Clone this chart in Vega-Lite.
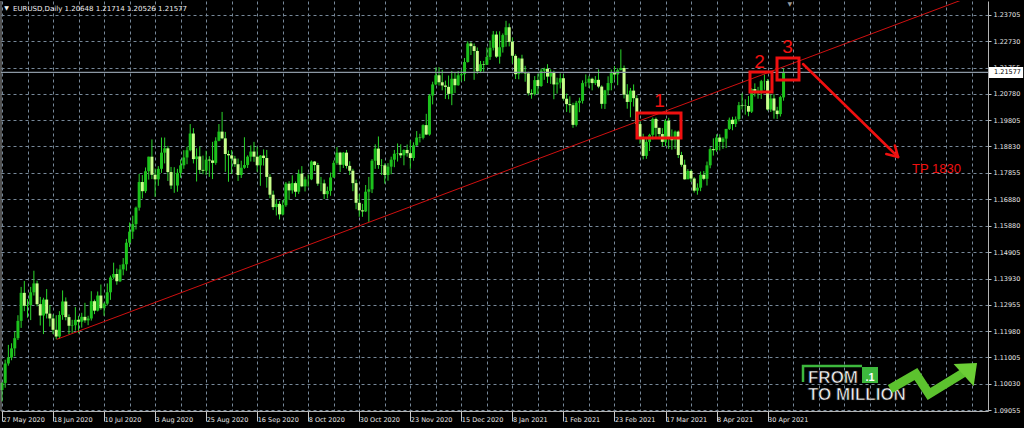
{
"$schema":"https://vega.github.io/schema/vega-lite/v6.json",
"width":987,"height":410,
"autosize":{"type":"none"},
"padding":{"left":1,"top":1,"right":36,"bottom":17},
"background":"#000000",
"config":{"view":{"stroke":null},"font":"DejaVu Sans","axis":{"labelOverlap":false,"labelBound":false,"labelFlush":false}},
"datasets":{
"candles":[
{"i":0,"d":"2020-05-27","o":1.0980,"h":1.1010,"l":1.0937,"c":1.1006},
{"i":1,"d":"2020-05-28","o":1.1006,"h":1.1092,"l":1.0988,"c":1.1078},
{"i":2,"d":"2020-05-29","o":1.1078,"h":1.1147,"l":1.1070,"c":1.1100},
{"i":3,"d":"2020-06-01","o":1.1100,"h":1.1153,"l":1.1090,"c":1.1134},
{"i":4,"d":"2020-06-02","o":1.1134,"h":1.1196,"l":1.1105,"c":1.1172},
{"i":5,"d":"2020-06-03","o":1.1172,"h":1.1257,"l":1.1165,"c":1.1236},
{"i":6,"d":"2020-06-04","o":1.1236,"h":1.1362,"l":1.1210,"c":1.1340},
{"i":7,"d":"2020-06-05","o":1.1340,"h":1.1384,"l":1.1272,"c":1.1292},
{"i":8,"d":"2020-06-08","o":1.1292,"h":1.1317,"l":1.1248,"c":1.1295},
{"i":9,"d":"2020-06-09","o":1.1295,"h":1.1362,"l":1.1239,"c":1.1342},
{"i":10,"d":"2020-06-10","o":1.1342,"h":1.1422,"l":1.1330,"c":1.1375},
{"i":11,"d":"2020-06-11","o":1.1375,"h":1.1385,"l":1.1290,"c":1.1298},
{"i":12,"d":"2020-06-12","o":1.1298,"h":1.1325,"l":1.1219,"c":1.1256},
{"i":13,"d":"2020-06-15","o":1.1256,"h":1.1322,"l":1.1187,"c":1.1315},
{"i":14,"d":"2020-06-16","o":1.1315,"h":1.1354,"l":1.1245,"c":1.1263},
{"i":15,"d":"2020-06-17","o":1.1263,"h":1.1295,"l":1.1215,"c":1.1245},
{"i":16,"d":"2020-06-18","o":1.1245,"h":1.1260,"l":1.1187,"c":1.1203},
{"i":17,"d":"2020-06-19","o":1.1203,"h":1.1257,"l":1.1168,"c":1.1178},
{"i":18,"d":"2020-06-22","o":1.1178,"h":1.1272,"l":1.1170,"c":1.1258},
{"i":19,"d":"2020-06-23","o":1.1258,"h":1.1349,"l":1.1240,"c":1.1308},
{"i":20,"d":"2020-06-24","o":1.1308,"h":1.1323,"l":1.1238,"c":1.1250},
{"i":21,"d":"2020-06-25","o":1.1250,"h":1.1260,"l":1.1186,"c":1.1218},
{"i":22,"d":"2020-06-26","o":1.1218,"h":1.1240,"l":1.1190,"c":1.1220},
{"i":23,"d":"2020-06-29","o":1.1220,"h":1.1287,"l":1.1200,"c":1.1240},
{"i":24,"d":"2020-06-30","o":1.1240,"h":1.1255,"l":1.1190,"c":1.1233},
{"i":25,"d":"2020-07-01","o":1.1233,"h":1.1266,"l":1.1211,"c":1.1251},
{"i":26,"d":"2020-07-02","o":1.1251,"h":1.1303,"l":1.1229,"c":1.1238},
{"i":27,"d":"2020-07-03","o":1.1238,"h":1.1255,"l":1.1220,"c":1.1245},
{"i":28,"d":"2020-07-06","o":1.1245,"h":1.1346,"l":1.1237,"c":1.1309},
{"i":29,"d":"2020-07-07","o":1.1309,"h":1.1315,"l":1.1261,"c":1.1274},
{"i":30,"d":"2020-07-08","o":1.1274,"h":1.1345,"l":1.1271,"c":1.1330},
{"i":31,"d":"2020-07-09","o":1.1330,"h":1.1371,"l":1.1277,"c":1.1283},
{"i":32,"d":"2020-07-10","o":1.1283,"h":1.1304,"l":1.1255,"c":1.1300},
{"i":33,"d":"2020-07-13","o":1.1300,"h":1.1375,"l":1.1293,"c":1.1342},
{"i":34,"d":"2020-07-14","o":1.1342,"h":1.1404,"l":1.1314,"c":1.1397},
{"i":35,"d":"2020-07-15","o":1.1397,"h":1.1452,"l":1.1390,"c":1.1410},
{"i":36,"d":"2020-07-16","o":1.1410,"h":1.1430,"l":1.1370,"c":1.1383},
{"i":37,"d":"2020-07-17","o":1.1383,"h":1.1444,"l":1.1380,"c":1.1427},
{"i":38,"d":"2020-07-20","o":1.1427,"h":1.1469,"l":1.1405,"c":1.1446},
{"i":39,"d":"2020-07-21","o":1.1446,"h":1.1540,"l":1.1422,"c":1.1526},
{"i":40,"d":"2020-07-22","o":1.1526,"h":1.1601,"l":1.1510,"c":1.1567},
{"i":41,"d":"2020-07-23","o":1.1567,"h":1.1626,"l":1.1540,"c":1.1595},
{"i":42,"d":"2020-07-24","o":1.1595,"h":1.1660,"l":1.1575,"c":1.1656},
{"i":43,"d":"2020-07-27","o":1.1656,"h":1.1781,"l":1.1645,"c":1.1751},
{"i":44,"d":"2020-07-28","o":1.1751,"h":1.1777,"l":1.1690,"c":1.1717},
{"i":45,"d":"2020-07-29","o":1.1717,"h":1.1805,"l":1.1710,"c":1.1791},
{"i":46,"d":"2020-07-30","o":1.1791,"h":1.1845,"l":1.1760,"c":1.1845},
{"i":47,"d":"2020-07-31","o":1.1845,"h":1.1909,"l":1.1762,"c":1.1778},
{"i":48,"d":"2020-08-03","o":1.1778,"h":1.1801,"l":1.1696,"c":1.1761},
{"i":49,"d":"2020-08-04","o":1.1761,"h":1.1810,"l":1.1737,"c":1.1800},
{"i":50,"d":"2020-08-05","o":1.1800,"h":1.1916,"l":1.1785,"c":1.1860},
{"i":51,"d":"2020-08-06","o":1.1860,"h":1.1916,"l":1.1820,"c":1.1876},
{"i":52,"d":"2020-08-07","o":1.1876,"h":1.1885,"l":1.1755,"c":1.1788},
{"i":53,"d":"2020-08-10","o":1.1788,"h":1.1807,"l":1.1725,"c":1.1738},
{"i":54,"d":"2020-08-11","o":1.1738,"h":1.1806,"l":1.1711,"c":1.1738},
{"i":55,"d":"2020-08-12","o":1.1738,"h":1.1800,"l":1.1715,"c":1.1785},
{"i":56,"d":"2020-08-13","o":1.1785,"h":1.1835,"l":1.1767,"c":1.1813},
{"i":57,"d":"2020-08-14","o":1.1813,"h":1.1869,"l":1.1800,"c":1.1842},
{"i":58,"d":"2020-08-17","o":1.1842,"h":1.1882,"l":1.1817,"c":1.1869},
{"i":59,"d":"2020-08-18","o":1.1869,"h":1.1966,"l":1.1865,"c":1.1931},
{"i":60,"d":"2020-08-19","o":1.1931,"h":1.1951,"l":1.1820,"c":1.1836},
{"i":61,"d":"2020-08-20","o":1.1836,"h":1.1876,"l":1.1753,"c":1.1846},
{"i":62,"d":"2020-08-21","o":1.1846,"h":1.1883,"l":1.1781,"c":1.1796},
{"i":63,"d":"2020-08-24","o":1.1796,"h":1.1849,"l":1.1780,"c":1.1793},
{"i":64,"d":"2020-08-25","o":1.1793,"h":1.1867,"l":1.1777,"c":1.1834},
{"i":65,"d":"2020-08-26","o":1.1834,"h":1.1847,"l":1.1770,"c":1.1831},
{"i":66,"d":"2020-08-27","o":1.1831,"h":1.1900,"l":1.1762,"c":1.1822},
{"i":67,"d":"2020-08-28","o":1.1822,"h":1.1917,"l":1.1815,"c":1.1904},
{"i":68,"d":"2020-08-31","o":1.1904,"h":1.1966,"l":1.1902,"c":1.1938},
{"i":69,"d":"2020-09-01","o":1.1938,"h":1.2011,"l":1.1910,"c":1.1913},
{"i":70,"d":"2020-09-02","o":1.1913,"h":1.1937,"l":1.1789,"c":1.1855},
{"i":71,"d":"2020-09-03","o":1.1855,"h":1.1868,"l":1.1752,"c":1.1850},
{"i":72,"d":"2020-09-04","o":1.1850,"h":1.1870,"l":1.1781,"c":1.1838},
{"i":73,"d":"2020-09-07","o":1.1838,"h":1.1848,"l":1.1807,"c":1.1817},
{"i":74,"d":"2020-09-08","o":1.1817,"h":1.1838,"l":1.1755,"c":1.1777},
{"i":75,"d":"2020-09-09","o":1.1777,"h":1.1830,"l":1.1766,"c":1.1804},
{"i":76,"d":"2020-09-10","o":1.1804,"h":1.1917,"l":1.1800,"c":1.1814},
{"i":77,"d":"2020-09-11","o":1.1814,"h":1.1850,"l":1.1803,"c":1.1845},
{"i":78,"d":"2020-09-14","o":1.1845,"h":1.1887,"l":1.1827,"c":1.1864},
{"i":79,"d":"2020-09-15","o":1.1864,"h":1.1900,"l":1.1826,"c":1.1845},
{"i":80,"d":"2020-09-16","o":1.1845,"h":1.1882,"l":1.1789,"c":1.1813},
{"i":81,"d":"2020-09-17","o":1.1813,"h":1.1851,"l":1.1737,"c":1.1849},
{"i":82,"d":"2020-09-18","o":1.1849,"h":1.1872,"l":1.1812,"c":1.1840},
{"i":83,"d":"2020-09-21","o":1.1840,"h":1.1870,"l":1.1730,"c":1.1770},
{"i":84,"d":"2020-09-22","o":1.1770,"h":1.1780,"l":1.1691,"c":1.1704},
{"i":85,"d":"2020-09-23","o":1.1704,"h":1.1719,"l":1.1647,"c":1.1658},
{"i":86,"d":"2020-09-24","o":1.1658,"h":1.1688,"l":1.1627,"c":1.1670},
{"i":87,"d":"2020-09-25","o":1.1670,"h":1.1680,"l":1.1612,"c":1.1631},
{"i":88,"d":"2020-09-28","o":1.1631,"h":1.1684,"l":1.1627,"c":1.1665},
{"i":89,"d":"2020-09-29","o":1.1665,"h":1.1751,"l":1.1659,"c":1.1745},
{"i":90,"d":"2020-09-30","o":1.1745,"h":1.1754,"l":1.1685,"c":1.1720},
{"i":91,"d":"2020-10-01","o":1.1720,"h":1.1776,"l":1.1708,"c":1.1747},
{"i":92,"d":"2020-10-02","o":1.1747,"h":1.1753,"l":1.1696,"c":1.1715},
{"i":93,"d":"2020-10-05","o":1.1715,"h":1.1797,"l":1.1707,"c":1.1782},
{"i":94,"d":"2020-10-06","o":1.1782,"h":1.1810,"l":1.1732,"c":1.1735},
{"i":95,"d":"2020-10-07","o":1.1735,"h":1.1771,"l":1.1716,"c":1.1761},
{"i":96,"d":"2020-10-08","o":1.1761,"h":1.1779,"l":1.1734,"c":1.1761},
{"i":97,"d":"2020-10-09","o":1.1761,"h":1.1831,"l":1.1758,"c":1.1827},
{"i":98,"d":"2020-10-12","o":1.1827,"h":1.1829,"l":1.1792,"c":1.1814},
{"i":99,"d":"2020-10-13","o":1.1814,"h":1.1822,"l":1.1737,"c":1.1745},
{"i":100,"d":"2020-10-14","o":1.1745,"h":1.1770,"l":1.1717,"c":1.1746},
{"i":101,"d":"2020-10-15","o":1.1746,"h":1.1760,"l":1.1688,"c":1.1706},
{"i":102,"d":"2020-10-16","o":1.1706,"h":1.1734,"l":1.1690,"c":1.1718},
{"i":103,"d":"2020-10-19","o":1.1718,"h":1.1786,"l":1.1700,"c":1.1768},
{"i":104,"d":"2020-10-20","o":1.1768,"h":1.1831,"l":1.1767,"c":1.1822},
{"i":105,"d":"2020-10-21","o":1.1822,"h":1.1881,"l":1.1815,"c":1.1860},
{"i":106,"d":"2020-10-22","o":1.1860,"h":1.1863,"l":1.1788,"c":1.1815},
{"i":107,"d":"2020-10-23","o":1.1815,"h":1.1862,"l":1.1803,"c":1.1860},
{"i":108,"d":"2020-10-26","o":1.1860,"h":1.1870,"l":1.1801,"c":1.1811},
{"i":109,"d":"2020-10-27","o":1.1811,"h":1.1828,"l":1.1777,"c":1.1793},
{"i":110,"d":"2020-10-28","o":1.1793,"h":1.1800,"l":1.1717,"c":1.1747},
{"i":111,"d":"2020-10-29","o":1.1747,"h":1.1760,"l":1.1650,"c":1.1674},
{"i":112,"d":"2020-10-30","o":1.1674,"h":1.1707,"l":1.1622,"c":1.1646},
{"i":113,"d":"2020-11-02","o":1.1646,"h":1.1670,"l":1.1622,"c":1.1642},
{"i":114,"d":"2020-11-03","o":1.1642,"h":1.1740,"l":1.1640,"c":1.1715},
{"i":115,"d":"2020-11-04","o":1.1715,"h":1.1770,"l":1.1603,"c":1.1724},
{"i":116,"d":"2020-11-05","o":1.1724,"h":1.1836,"l":1.1710,"c":1.1830},
{"i":117,"d":"2020-11-06","o":1.1830,"h":1.1891,"l":1.1800,"c":1.1875},
{"i":118,"d":"2020-11-09","o":1.1875,"h":1.1920,"l":1.1800,"c":1.1814},
{"i":119,"d":"2020-11-10","o":1.1814,"h":1.1836,"l":1.1777,"c":1.1813},
{"i":120,"d":"2020-11-11","o":1.1813,"h":1.1820,"l":1.1745,"c":1.1777},
{"i":121,"d":"2020-11-12","o":1.1777,"h":1.1821,"l":1.1756,"c":1.1808},
{"i":122,"d":"2020-11-13","o":1.1808,"h":1.1845,"l":1.1780,"c":1.1834},
{"i":123,"d":"2020-11-16","o":1.1834,"h":1.1870,"l":1.1806,"c":1.1856},
{"i":124,"d":"2020-11-17","o":1.1856,"h":1.1894,"l":1.1827,"c":1.1858},
{"i":125,"d":"2020-11-18","o":1.1858,"h":1.1891,"l":1.1840,"c":1.1850},
{"i":126,"d":"2020-11-19","o":1.1850,"h":1.1872,"l":1.1813,"c":1.1870},
{"i":127,"d":"2020-11-20","o":1.1870,"h":1.1890,"l":1.1845,"c":1.1858},
{"i":128,"d":"2020-11-23","o":1.1858,"h":1.1905,"l":1.1800,"c":1.1840},
{"i":129,"d":"2020-11-24","o":1.1840,"h":1.1898,"l":1.1830,"c":1.1887},
{"i":130,"d":"2020-11-25","o":1.1887,"h":1.1940,"l":1.1885,"c":1.1916},
{"i":131,"d":"2020-11-26","o":1.1916,"h":1.1930,"l":1.1898,"c":1.1915},
{"i":132,"d":"2020-11-27","o":1.1915,"h":1.1965,"l":1.1909,"c":1.1962},
{"i":133,"d":"2020-11-30","o":1.1962,"h":1.2004,"l":1.1925,"c":1.1927},
{"i":134,"d":"2020-12-01","o":1.1927,"h":1.2077,"l":1.1923,"c":1.2072},
{"i":135,"d":"2020-12-02","o":1.2072,"h":1.2123,"l":1.2039,"c":1.2113},
{"i":136,"d":"2020-12-03","o":1.2113,"h":1.2176,"l":1.2110,"c":1.2147},
{"i":137,"d":"2020-12-04","o":1.2147,"h":1.2177,"l":1.2109,"c":1.2121},
{"i":138,"d":"2020-12-07","o":1.2121,"h":1.2167,"l":1.2091,"c":1.2109},
{"i":139,"d":"2020-12-08","o":1.2109,"h":1.2127,"l":1.2059,"c":1.2104},
{"i":140,"d":"2020-12-09","o":1.2104,"h":1.2146,"l":1.2058,"c":1.2078},
{"i":141,"d":"2020-12-10","o":1.2078,"h":1.2163,"l":1.2036,"c":1.2134},
{"i":142,"d":"2020-12-11","o":1.2134,"h":1.2157,"l":1.2081,"c":1.2110},
{"i":143,"d":"2020-12-14","o":1.2110,"h":1.2163,"l":1.2108,"c":1.2147},
{"i":144,"d":"2020-12-15","o":1.2147,"h":1.2165,"l":1.2124,"c":1.2151},
{"i":145,"d":"2020-12-16","o":1.2151,"h":1.2211,"l":1.2125,"c":1.2196},
{"i":146,"d":"2020-12-17","o":1.2196,"h":1.2273,"l":1.2194,"c":1.2265},
{"i":147,"d":"2020-12-18","o":1.2265,"h":1.2270,"l":1.2222,"c":1.2255},
{"i":148,"d":"2020-12-21","o":1.2255,"h":1.2265,"l":1.2130,"c":1.2237},
{"i":149,"d":"2020-12-22","o":1.2237,"h":1.2250,"l":1.2152,"c":1.2162},
{"i":150,"d":"2020-12-23","o":1.2162,"h":1.2200,"l":1.2155,"c":1.2188},
{"i":151,"d":"2020-12-24","o":1.2188,"h":1.2200,"l":1.2160,"c":1.2186},
{"i":152,"d":"2020-12-28","o":1.2186,"h":1.2250,"l":1.2185,"c":1.2215},
{"i":153,"d":"2020-12-29","o":1.2215,"h":1.2276,"l":1.2204,"c":1.2249},
{"i":154,"d":"2020-12-30","o":1.2249,"h":1.2311,"l":1.2239,"c":1.2298},
{"i":155,"d":"2020-12-31","o":1.2298,"h":1.2310,"l":1.2211,"c":1.2216},
{"i":156,"d":"2021-01-04","o":1.2216,"h":1.2310,"l":1.2190,"c":1.2251},
{"i":157,"d":"2021-01-05","o":1.2251,"h":1.2302,"l":1.2231,"c":1.2296},
{"i":158,"d":"2021-01-06","o":1.2296,"h":1.2349,"l":1.2253,"c":1.2325},
{"i":159,"d":"2021-01-07","o":1.2325,"h":1.2339,"l":1.2254,"c":1.2271},
{"i":160,"d":"2021-01-08","o":1.2271,"h":1.2287,"l":1.2191,"c":1.2219},
{"i":161,"d":"2021-01-11","o":1.2219,"h":1.2225,"l":1.2133,"c":1.2151},
{"i":162,"d":"2021-01-12","o":1.2151,"h":1.2212,"l":1.2132,"c":1.2209},
{"i":163,"d":"2021-01-13","o":1.2209,"h":1.2223,"l":1.2153,"c":1.2156},
{"i":164,"d":"2021-01-14","o":1.2156,"h":1.2182,"l":1.2123,"c":1.2154},
{"i":165,"d":"2021-01-15","o":1.2154,"h":1.2160,"l":1.2072,"c":1.2080},
{"i":166,"d":"2021-01-18","o":1.2080,"h":1.2095,"l":1.2060,"c":1.2077},
{"i":167,"d":"2021-01-19","o":1.2077,"h":1.2144,"l":1.2072,"c":1.2129},
{"i":168,"d":"2021-01-20","o":1.2129,"h":1.2153,"l":1.2077,"c":1.2107},
{"i":169,"d":"2021-01-21","o":1.2107,"h":1.2172,"l":1.2104,"c":1.2164},
{"i":170,"d":"2021-01-22","o":1.2164,"h":1.2175,"l":1.2130,"c":1.2171},
{"i":171,"d":"2021-01-25","o":1.2171,"h":1.2188,"l":1.2118,"c":1.2142},
{"i":172,"d":"2021-01-26","o":1.2142,"h":1.2169,"l":1.2115,"c":1.2159},
{"i":173,"d":"2021-01-27","o":1.2159,"h":1.2164,"l":1.2058,"c":1.2113},
{"i":174,"d":"2021-01-28","o":1.2113,"h":1.2138,"l":1.2079,"c":1.2120},
{"i":175,"d":"2021-01-29","o":1.2120,"h":1.2154,"l":1.2098,"c":1.2136},
{"i":176,"d":"2021-02-01","o":1.2136,"h":1.2150,"l":1.2054,"c":1.2060},
{"i":177,"d":"2021-02-02","o":1.2060,"h":1.2079,"l":1.2011,"c":1.2040},
{"i":178,"d":"2021-02-03","o":1.2040,"h":1.2069,"l":1.2008,"c":1.2036},
{"i":179,"d":"2021-02-04","o":1.2036,"h":1.2045,"l":1.1952,"c":1.1963},
{"i":180,"d":"2021-02-05","o":1.1963,"h":1.2052,"l":1.1957,"c":1.2045},
{"i":181,"d":"2021-02-08","o":1.2045,"h":1.2064,"l":1.2010,"c":1.2052},
{"i":182,"d":"2021-02-09","o":1.2052,"h":1.2128,"l":1.2042,"c":1.2118},
{"i":183,"d":"2021-02-10","o":1.2118,"h":1.2150,"l":1.2105,"c":1.2120},
{"i":184,"d":"2021-02-11","o":1.2120,"h":1.2145,"l":1.2100,"c":1.2134},
{"i":185,"d":"2021-02-12","o":1.2134,"h":1.2138,"l":1.2091,"c":1.2118},
{"i":186,"d":"2021-02-15","o":1.2118,"h":1.2144,"l":1.2111,"c":1.2130},
{"i":187,"d":"2021-02-16","o":1.2130,"h":1.2169,"l":1.2099,"c":1.2105},
{"i":188,"d":"2021-02-17","o":1.2105,"h":1.2110,"l":1.2023,"c":1.2041},
{"i":189,"d":"2021-02-18","o":1.2041,"h":1.2093,"l":1.2022,"c":1.2091},
{"i":190,"d":"2021-02-19","o":1.2091,"h":1.2143,"l":1.2073,"c":1.2118},
{"i":191,"d":"2021-02-22","o":1.2118,"h":1.2168,"l":1.2091,"c":1.2155},
{"i":192,"d":"2021-02-23","o":1.2155,"h":1.2181,"l":1.2130,"c":1.2150},
{"i":193,"d":"2021-02-24","o":1.2150,"h":1.2173,"l":1.2110,"c":1.2166},
{"i":194,"d":"2021-02-25","o":1.2166,"h":1.2243,"l":1.2165,"c":1.2174},
{"i":195,"d":"2021-02-26","o":1.2174,"h":1.2183,"l":1.2061,"c":1.2075},
{"i":196,"d":"2021-03-01","o":1.2075,"h":1.2114,"l":1.2023,"c":1.2048},
{"i":197,"d":"2021-03-02","o":1.2048,"h":1.2100,"l":1.1991,"c":1.2090},
{"i":198,"d":"2021-03-03","o":1.2090,"h":1.2113,"l":1.2031,"c":1.2062},
{"i":199,"d":"2021-03-04","o":1.2062,"h":1.2073,"l":1.1955,"c":1.1966},
{"i":200,"d":"2021-03-05","o":1.1966,"h":1.1976,"l":1.1893,"c":1.1915},
{"i":201,"d":"2021-03-08","o":1.1915,"h":1.1930,"l":1.1835,"c":1.1848},
{"i":202,"d":"2021-03-09","o":1.1848,"h":1.1910,"l":1.1837,"c":1.1900},
{"i":203,"d":"2021-03-10","o":1.1900,"h":1.1930,"l":1.1866,"c":1.1926},
{"i":204,"d":"2021-03-11","o":1.1926,"h":1.1990,"l":1.1909,"c":1.1985},
{"i":205,"d":"2021-03-12","o":1.1985,"h":1.1990,"l":1.1913,"c":1.1952},
{"i":206,"d":"2021-03-15","o":1.1952,"h":1.1952,"l":1.1910,"c":1.1929},
{"i":207,"d":"2021-03-16","o":1.1929,"h":1.1951,"l":1.1883,"c":1.1900},
{"i":208,"d":"2021-03-17","o":1.1900,"h":1.1985,"l":1.1884,"c":1.1978},
{"i":209,"d":"2021-03-18","o":1.1978,"h":1.1989,"l":1.1874,"c":1.1916},
{"i":210,"d":"2021-03-19","o":1.1916,"h":1.1946,"l":1.1871,"c":1.1906},
{"i":211,"d":"2021-03-22","o":1.1906,"h":1.1942,"l":1.1873,"c":1.1938},
{"i":212,"d":"2021-03-23","o":1.1938,"h":1.1942,"l":1.1840,"c":1.1851},
{"i":213,"d":"2021-03-24","o":1.1851,"h":1.1863,"l":1.1808,"c":1.1815},
{"i":214,"d":"2021-03-25","o":1.1815,"h":1.1834,"l":1.1760,"c":1.1761},
{"i":215,"d":"2021-03-26","o":1.1761,"h":1.1799,"l":1.1763,"c":1.1792},
{"i":216,"d":"2021-03-29","o":1.1792,"h":1.1797,"l":1.1751,"c":1.1764},
{"i":217,"d":"2021-03-30","o":1.1764,"h":1.1769,"l":1.1712,"c":1.1719},
{"i":218,"d":"2021-03-31","o":1.1719,"h":1.1746,"l":1.1704,"c":1.1730},
{"i":219,"d":"2021-04-01","o":1.1730,"h":1.1790,"l":1.1717,"c":1.1778},
{"i":220,"d":"2021-04-02","o":1.1778,"h":1.1792,"l":1.1758,"c":1.1763},
{"i":221,"d":"2021-04-05","o":1.1763,"h":1.1827,"l":1.1738,"c":1.1813},
{"i":222,"d":"2021-04-06","o":1.1813,"h":1.1880,"l":1.1802,"c":1.1873},
{"i":223,"d":"2021-04-07","o":1.1873,"h":1.1913,"l":1.1849,"c":1.1869},
{"i":224,"d":"2021-04-08","o":1.1869,"h":1.1928,"l":1.1863,"c":1.1916},
{"i":225,"d":"2021-04-09","o":1.1916,"h":1.1928,"l":1.1868,"c":1.1900},
{"i":226,"d":"2021-04-12","o":1.1900,"h":1.1917,"l":1.1874,"c":1.1912},
{"i":227,"d":"2021-04-13","o":1.1912,"h":1.1948,"l":1.1877,"c":1.1948},
{"i":228,"d":"2021-04-14","o":1.1948,"h":1.1990,"l":1.1944,"c":1.1982},
{"i":229,"d":"2021-04-15","o":1.1982,"h":1.1993,"l":1.1943,"c":1.1966},
{"i":230,"d":"2021-04-16","o":1.1966,"h":1.1994,"l":1.1955,"c":1.1984},
{"i":231,"d":"2021-04-19","o":1.1984,"h":1.2048,"l":1.1976,"c":1.2036},
{"i":232,"d":"2021-04-20","o":1.2036,"h":1.2080,"l":1.2020,"c":1.2034},
{"i":233,"d":"2021-04-21","o":1.2034,"h":1.2058,"l":1.2001,"c":1.2033},
{"i":234,"d":"2021-04-22","o":1.2033,"h":1.2070,"l":1.1995,"c":1.2012},
{"i":235,"d":"2021-04-23","o":1.2012,"h":1.2099,"l":1.2007,"c":1.2096},
{"i":236,"d":"2021-04-26","o":1.2096,"h":1.2117,"l":1.2068,"c":1.2083},
{"i":237,"d":"2021-04-27","o":1.2083,"h":1.2104,"l":1.2060,"c":1.2089},
{"i":238,"d":"2021-04-28","o":1.2089,"h":1.2130,"l":1.2059,"c":1.2125},
{"i":239,"d":"2021-04-29","o":1.2125,"h":1.2150,"l":1.2093,"c":1.2126},
{"i":240,"d":"2021-04-30","o":1.2126,"h":1.2133,"l":1.2016,"c":1.2020},
{"i":241,"d":"2021-05-03","o":1.2020,"h":1.2076,"l":1.2011,"c":1.2061},
{"i":242,"d":"2021-05-04","o":1.2061,"h":1.2077,"l":1.1986,"c":1.2016},
{"i":243,"d":"2021-05-05","o":1.2016,"h":1.2030,"l":1.1985,"c":1.2003},
{"i":244,"d":"2021-05-06","o":1.2003,"h":1.2071,"l":1.1994,"c":1.2066},
{"i":245,"d":"2021-05-07","o":1.20648,"h":1.21714,"l":1.20526,"c":1.21577}
]
},
"layer":[
{
"data":{"name":"candles"},
"mark":{"type":"rule","strokeWidth":1,"color":"#2ad62a"},
"encoding":{
"x":{"field":"i","type":"quantitative","scale":{"domain":[-0.31,309.09],"nice":false,"zero":false,"padding":0},
"axis":{"orient":"bottom","title":null,"tickCount":200,
"values":[0,8,16,24,32,40,48,56,64,72,80,88,96,104,112,120,128,136,144,152,160,168,176,184,192,200,208,216,224,232,240,248,256,264,272,280,288,296,304],
"labelExpr":"(datum.value % 16 == 0 && datum.value <= 240) ? ['27 May 2020','18 Jun 2020','10 Jul 2020','3 Aug 2020','25 Aug 2020','16 Sep 2020','8 Oct 2020','30 Oct 2020','23 Nov 2020','15 Dec 2020','8 Jan 2021','1 Feb 2021','23 Feb 2021','17 Mar 2021','8 Apr 2021','30 Apr 2021'][datum.value / 16] : ''",
"labelAlign":"left","labelBaseline":"top","labelPadding":-5,"labelDx":1,
"labelColor":"#e6e6e6","labelFont":"DejaVu Sans","labelFontSize":6.5,
"labelOverlap":false,"labelFlush":false,"labelBound":false,
"tickSize":10,"tickColor":"#c8c8c8",
"tickOpacity":{"condition":{"test":"datum.value % 16 == 0 && datum.value <= 240","value":1},"value":0},
"domain":true,"domainColor":"#b4b4b4",
"grid":true,"gridColor":"#778899","gridDash":[3,3],"gridOpacity":1}},
"y":{"field":"l","type":"quantitative","scale":{"domain":[1.09018,1.24224],"nice":false,"zero":false,"padding":0},
"axis":{"orient":"right","title":null,"tickCount":200,
"values":[1.09055,1.10030,1.11005,1.11980,1.12955,1.13930,1.14905,1.15880,1.16880,1.17855,1.18830,1.19805,1.20780,1.21755,1.22730,1.23705],
"format":".5f","labelColor":"#e6e6e6","labelFont":"DejaVu Sans","labelFontSize":6.5,"labelPadding":2,
"labelOverlap":false,"labelFlush":false,"labelBound":false,
"tickSize":3,"tickColor":"#c8c8c8","domain":true,"domainColor":"#b4b4b4",
"grid":true,"gridColor":"#778899","gridDash":[3,3],"gridOpacity":1}},
"y2":{"field":"h"}
}
},
{
"data":{"name":"candles"},
"mark":{"type":"bar","size":3},
"encoding":{
"x":{"field":"i","type":"quantitative","scale":{"domain":[-0.31,309.09],"nice":false,"zero":false,"padding":0}},
"y":{"field":"o","type":"quantitative","scale":{"domain":[1.09018,1.24224],"nice":false,"zero":false,"padding":0}},
"y2":{"field":"c"},
"color":{"condition":{"test":"datum.c >= datum.o","value":"#1cc21c"},"value":"#c8ff8c"}
}
},
{
"data":{"values":[{"x":-0.31}]},
"mark":{"type":"rule","color":"#a0a0a0","strokeWidth":1},
"encoding":{"x":{"field":"x","type":"quantitative","scale":{"domain":[-0.31,309.09],"nice":false,"zero":false,"padding":0}}}
},
{
"data":{"values":[{"p":1.21577}]},
"mark":{"type":"rule","color":"#8c98a4","strokeWidth":1.2},
"encoding":{"y":{"field":"p","type":"quantitative","scale":{"domain":[1.09018,1.24224],"nice":false,"zero":false,"padding":0}}}
},
{
"data":{"values":[{"i":17.15,"p":1.11675},{"i":309.09,"p":1.24628}]},
"mark":{"type":"line","color":"#d01010","strokeWidth":1,"clip":true},
"encoding":{
"x":{"field":"i","type":"quantitative","scale":{"domain":[-0.31,309.09],"nice":false,"zero":false,"padding":0}},
"y":{"field":"p","type":"quantitative","scale":{"domain":[1.09018,1.24224],"nice":false,"zero":false,"padding":0}}
}
},
{
"data":{"values":[
{"x1":199.06,"x2":212.85,"y1":1.20070,"y2":1.19143},
{"x1":234.48,"x2":241.38,"y1":1.21591,"y2":1.20849},
{"x1":242.95,"x2":249.84,"y1":1.22110,"y2":1.21294}
]},
"mark":{"type":"rect","fillOpacity":0,"stroke":"#f01010","strokeWidth":3},
"encoding":{
"x":{"field":"x1","type":"quantitative","scale":{"domain":[-0.31,309.09],"nice":false,"zero":false,"padding":0}},
"x2":{"field":"x2"},
"y":{"field":"y1","type":"quantitative","scale":{"domain":[1.09018,1.24224],"nice":false,"zero":false,"padding":0}},
"y2":{"field":"y2"}
}
},
{
"data":{"values":[
{"x1":251.1,"y1":1.21887,"x2":280.9,"y2":1.18438},
{"x1":280.9,"y1":1.18438,"x2":277.2,"y2":1.18549},
{"x1":280.9,"y1":1.18438,"x2":279.9,"y2":1.18868}
]},
"mark":{"type":"rule","color":"#f01010","strokeWidth":2.5,"strokeCap":"round"},
"encoding":{
"x":{"field":"x1","type":"quantitative","scale":{"domain":[-0.31,309.09],"nice":false,"zero":false,"padding":0}},
"x2":{"field":"x2"},
"y":{"field":"y1","type":"quantitative","scale":{"domain":[1.09018,1.24224],"nice":false,"zero":false,"padding":0}},
"y2":{"field":"y2"}
}
},
{
"data":{"values":[
{"x":206.1,"y":1.20281,"t":"1"},
{"x":237.46,"y":1.21728,"t":"2"},
{"x":246.24,"y":1.22307,"t":"3"}
]},
"mark":{"type":"text","color":"#f01010","font":"Liberation Sans","fontSize":19,"align":"center","baseline":"alphabetic"},
"encoding":{
"x":{"field":"x","type":"quantitative","scale":{"domain":[-0.31,309.09],"nice":false,"zero":false,"padding":0}},
"y":{"field":"y","type":"quantitative","scale":{"domain":[1.09018,1.24224],"nice":false,"zero":false,"padding":0}},
"text":{"field":"t"}
}
},
{
"data":{"values":[{"x":285.3,"y":1.17845,"t":"TP 1830"}]},
"mark":{"type":"text","color":"#f01010","font":"Liberation Sans","fontSize":13,"align":"left","baseline":"alphabetic"},
"encoding":{
"x":{"field":"x","type":"quantitative","scale":{"domain":[-0.31,309.09],"nice":false,"zero":false,"padding":0}},
"y":{"field":"y","type":"quantitative","scale":{"domain":[1.09018,1.24224],"nice":false,"zero":false,"padding":0}},
"text":{"field":"t"}
}
},
{
"data":{"values":[{"x1":309.4,"x2":320.1,"y1":1.21776,"y2":1.21368}]},
"mark":{"type":"rect","color":"#ffffff"},
"encoding":{
"x":{"field":"x1","type":"quantitative","scale":{"domain":[-0.31,309.09],"nice":false,"zero":false,"padding":0}},
"x2":{"field":"x2"},
"y":{"field":"y1","type":"quantitative","scale":{"domain":[1.09018,1.24224],"nice":false,"zero":false,"padding":0}},
"y2":{"field":"y2"}
}
},
{
"data":{"values":[{"x":311.0,"y":1.21577,"t":"1.21577"}]},
"mark":{"type":"text","color":"#000000","font":"DejaVu Sans","fontSize":6.5,"align":"left","baseline":"middle"},
"encoding":{
"x":{"field":"x","type":"quantitative","scale":{"domain":[-0.31,309.09],"nice":false,"zero":false,"padding":0}},
"y":{"field":"y","type":"quantitative","scale":{"domain":[1.09018,1.24224],"nice":false,"zero":false,"padding":0}},
"text":{"field":"t"}
}
},
{
"data":{"values":[{"x":3.45,"y":1.23853,"t":"EURUSD,Daily  1.20648 1.21714 1.20526 1.21577"}]},
"mark":{"type":"text","color":"#f0f0f0","font":"DejaVu Sans","fontSize":7,"align":"left","baseline":"alphabetic"},
"encoding":{
"x":{"field":"x","type":"quantitative","scale":{"domain":[-0.31,309.09],"nice":false,"zero":false,"padding":0}},
"y":{"field":"y","type":"quantitative","scale":{"domain":[1.09018,1.24224],"nice":false,"zero":false,"padding":0}},
"text":{"field":"t"}
}
},
{
"data":{"values":[{"x":1.41,"y":1.23964,"t":"▼","c":"#f0f0f0"},{"x":247.0,"y":1.24113,"t":"▼","c":"#9a9a9a"}]},
"mark":{"type":"text","font":"DejaVu Sans","fontSize":6,"align":"center","baseline":"middle"},
"encoding":{
"x":{"field":"x","type":"quantitative","scale":{"domain":[-0.31,309.09],"nice":false,"zero":false,"padding":0}},
"y":{"field":"y","type":"quantitative","scale":{"domain":[1.09018,1.24224],"nice":false,"zero":false,"padding":0}},
"text":{"field":"t"},
"color":{"field":"c","type":"nominal","scale":null}
}
},
{
"data":{"values":[{"x":251.1,"y":1.10093,"k":0},{"x":251.1,"y":1.10686,"k":1},{"x":269.6,"y":1.10686,"k":2}]},
"mark":{"type":"line","color":"#3db83d","strokeWidth":2.5,"strokeJoin":"miter"},
"encoding":{
"x":{"field":"x","type":"quantitative","scale":{"domain":[-0.31,309.09],"nice":false,"zero":false,"padding":0}},
"y":{"field":"y","type":"quantitative","scale":{"domain":[1.09018,1.24224],"nice":false,"zero":false,"padding":0}},
"order":{"field":"k"}
}
},
{
"data":{"values":[{"x1":269.59,"x2":274.61,"y1":1.10649,"y2":1.10056}]},
"mark":{"type":"rect","color":"#3db83d"},
"encoding":{
"x":{"field":"x1","type":"quantitative","scale":{"domain":[-0.31,309.09],"nice":false,"zero":false,"padding":0}},
"x2":{"field":"x2"},
"y":{"field":"y1","type":"quantitative","scale":{"domain":[1.09018,1.24224],"nice":false,"zero":false,"padding":0}},
"y2":{"field":"y2"}
}
},
{
"data":{"values":[{"x":272.1,"y":1.10130,"t":".1"}]},
"mark":{"type":"text","color":"#ffffff","font":"Liberation Sans","fontWeight":"bold","fontSize":11,"align":"center","baseline":"alphabetic"},
"encoding":{
"x":{"field":"x","type":"quantitative","scale":{"domain":[-0.31,309.09],"nice":false,"zero":false,"padding":0}},
"y":{"field":"y","type":"quantitative","scale":{"domain":[1.09018,1.24224],"nice":false,"zero":false,"padding":0}},
"text":{"field":"t"}
}
},
{
"data":{"values":[{"x":252.66,"y":1.10056,"t":"FROM"},{"x":252.66,"y":1.09426,"t":"TO MILLION"}]},
"mark":{"type":"text","color":"#f2f2f2","stroke":"#1a1a1a","strokeWidth":0.7,"font":"Liberation Sans","fontWeight":"bold","fontSize":17,"align":"left","baseline":"alphabetic"},
"encoding":{
"x":{"field":"x","type":"quantitative","scale":{"domain":[-0.31,309.09],"nice":false,"zero":false,"padding":0}},
"y":{"field":"y","type":"quantitative","scale":{"domain":[1.09018,1.24224],"nice":false,"zero":false,"padding":0}},
"text":{"field":"t"}
}
},
{
"data":{"values":[{"x":278.4,"y":1.09834,"k":0},{"x":286.5,"y":1.10390,"k":1},{"x":290.6,"y":1.09649,"k":2},{"x":301.3,"y":1.10427,"k":3}]},
"mark":{"type":"line","color":"#5cc22e","strokeWidth":9,"strokeJoin":"miter","strokeCap":"butt"},
"encoding":{
"x":{"field":"x","type":"quantitative","scale":{"domain":[-0.31,309.09],"nice":false,"zero":false,"padding":0}},
"y":{"field":"y","type":"quantitative","scale":{"domain":[1.09018,1.24224],"nice":false,"zero":false,"padding":0}},
"order":{"field":"k"}
}
},
{
"data":{"values":[{"x":303.2,"y":1.10538}]},
"mark":{"type":"point","shape":"M0,-0.7L1,0.5L-1,0.5Z","filled":true,"color":"#6ccf36","opacity":1,"size":900,"angle":48},
"encoding":{
"x":{"field":"x","type":"quantitative","scale":{"domain":[-0.31,309.09],"nice":false,"zero":false,"padding":0}},
"y":{"field":"y","type":"quantitative","scale":{"domain":[1.09018,1.24224],"nice":false,"zero":false,"padding":0}}
}
}
]
}
